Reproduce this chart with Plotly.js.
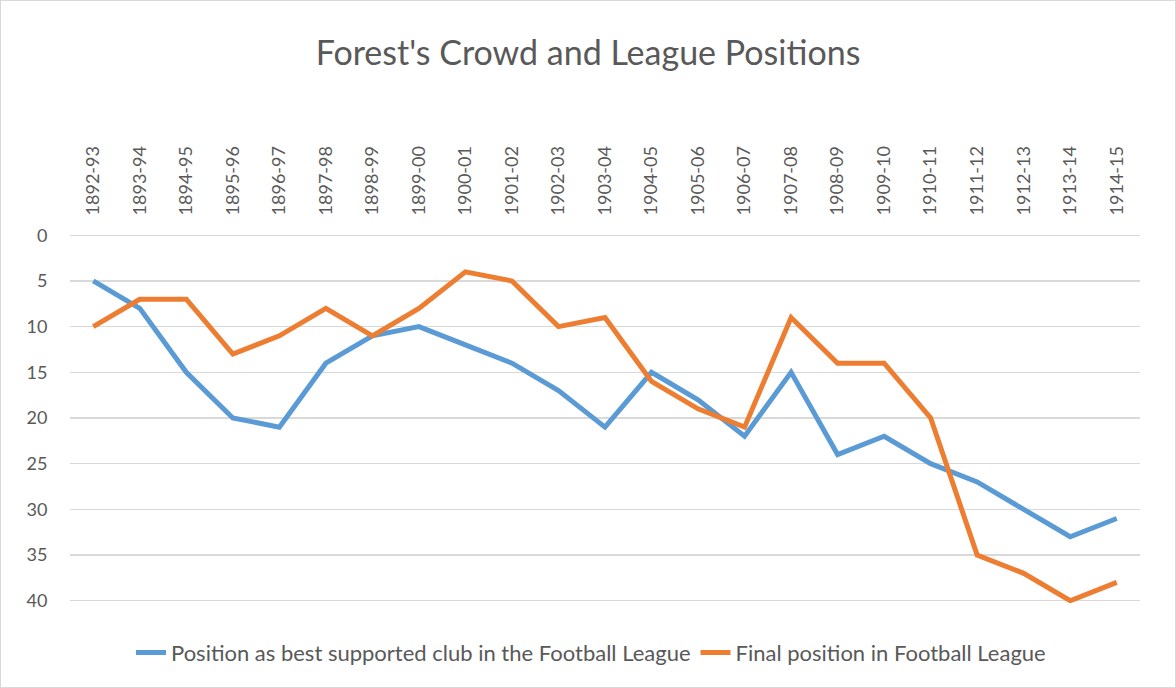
<!DOCTYPE html>
<html>
<head>
<meta charset="utf-8">
<script src="https://cdn.plot.ly/plotly-3.0.1.min.js"></script>
<style>
html,body{margin:0;padding:0;background:#fff;}
#chart{width:1174px;height:686px;border:1px solid #d9d9d9;}
</style>
</head>
<body>
<div id="chart"></div>
<script>
const seasons = ["1892-93","1893-94","1894-95","1895-96","1896-97","1897-98","1898-99","1899-00","1900-01","1901-02","1902-03","1903-04","1904-05","1905-06","1906-07","1907-08","1908-09","1909-10","1910-11","1911-12","1912-13","1913-14","1914-15"];
const bestSupported = [5,8,15,20,21,14,11,10,12,14,17,21,15,18,22,15,24,22,25,27,30,33,31];
const finalPosition = [10,7,7,13,11,8,11,8,4,5,10,9,16,19,21,9,14,14,20,35,37,40,38];
const yTicks = [0,5,10,15,20,25,30,35,40];

const FONT = "Lato, 'Open Sans', sans-serif";
const traces = [
  {x: seasons, y: bestSupported, type:'scatter', mode:'lines', name:'Position as best supported club in the Football League',
   line:{color:'#5B9BD5', width:5}},
  {x: seasons, y: finalPosition, type:'scatter', mode:'lines', name:'Final position in Football League',
   line:{color:'#ED7D31', width:5}}
];
const layout = {
  width:1174, height:686,
  margin:{l:69, r:35, t:232, b:84, autoexpand:false},
  paper_bgcolor:'#fff', plot_bgcolor:'#fff',
  font:{family:FONT, color:'#595959'},
  title:{text:"Forest's Crowd and League Positions", font:{size:34, color:'#595959', family:FONT},
         x:0.5, xanchor:'center', xref:'container', y:1-52/686, yanchor:'middle', yref:'container'},
  xaxis:{type:'category', side:'top', tickangle:-90, showgrid:false, showline:false, zeroline:false,
         ticks:'outside', ticklen:13, tickcolor:'rgba(0,0,0,0)', tickfont:{size:18, color:'#595959'},
         range:[-0.5, seasons.length-0.5], automargin:false},
  yaxis:{range:[40.25,-0.25], tickvals:yTicks, showgrid:true, gridcolor:'#d9d9d9', gridwidth:1.5,
         zeroline:false, showline:false, ticks:'outside', ticklen:18, tickcolor:'rgba(0,0,0,0)',
         tickfont:{size:18, color:'#595959'}, automargin:false},
  showlegend:true,
  legend:{orientation:'h', x:(590-69)/1070, xanchor:'center', y:-50/372, yanchor:'middle',
          font:{size:22, color:'#595959', family:FONT}, traceorder:'normal'}
};
Plotly.newPlot('chart', traces, layout, {displayModeBar:false, staticPlot:true});
</script>
</body>
</html>
